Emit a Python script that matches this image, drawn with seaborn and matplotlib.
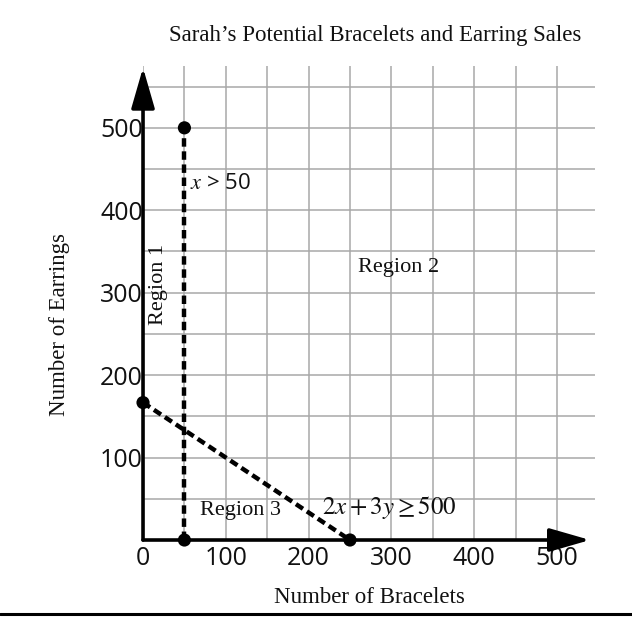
"""
Sarah's potential bracelet and earring sales - graph of the two
boundary lines (x > 50 and 2x + 3y >= 500) with the three regions.
"""

import matplotlib
matplotlib.use('Agg')
import matplotlib.pyplot as plt
from matplotlib.lines import Line2D
import numpy as np
import pandas as pd
import seaborn as sns

# ── Data ──────────────────────────────────────────────────────────────────────
vline_x = [50, 50]             # x = 50 boundary
vline_y = [0, 500]
budget_x = [0, 250]            # 2x + 3y = 500 boundary
budget_y = [166.7, 0]
point_x = [50, 0, 50, 250]     # end points of both boundaries
point_y = [500, 166.7, 0, 0]

x_ticks = [0, 100, 200, 300, 400, 500]
y_ticks = [100, 200, 300, 400, 500]

region_names = ['Region 1', 'Region 2', 'Region 3']
region_x = [19, 309, 118]
region_y = [310, 330, 36]

title = 'Sarah\u2019s Potential Bracelets and Earring Sales'
x_label = 'Number of Bracelets'
y_label = 'Number of Earrings'

SERIF = ['Liberation Serif', 'DejaVu Serif']
SANS = ['Open Sans', 'DejaVu Sans']
INK = '#111111'

sns.set_style('white')
plt.rcParams['font.family'] = SANS
plt.rcParams['mathtext.fontset'] = 'stix'
plt.rcParams['text.color'] = INK

fig = plt.figure(figsize=(6.32, 6.18), dpi=100)
ax = fig.add_axes([0.2263, 0.1262, 0.7152, 0.767])

# ── Boundary lines ────────────────────────────────────────────────────────────
lines = pd.concat([
    pd.DataFrame({'x': vline_x, 'y': vline_y, 'line': 'x > 50'}),
    pd.DataFrame({'x': budget_x, 'y': budget_y, 'line': '2x + 3y >= 500'}),
])
sns.lineplot(data=lines, x='x', y='y', units='line', estimator=None,
             sort=False, color='black', lw=3.2, ax=ax, zorder=4,
             linestyle=(0, (1.9, 1.05)), dash_capstyle='butt')

sns.scatterplot(x=point_x, y=point_y, color='black', s=90,
                edgecolor='none', ax=ax, zorder=5, clip_on=False)

# ── Axes, grid, arrows ────────────────────────────────────────────────────────
ax.set_xlim(0, 546)
ax.set_ylim(0, 575)
ax.set_xticks(x_ticks)
ax.set_yticks(y_ticks)
ax.set_xticks(np.arange(50, 550, 100), minor=True)
ax.set_yticks(np.arange(50, 600, 100), minor=True)
ax.grid(True, which='both', color='#a8a8a8', lw=1.1)
for s in ax.spines.values():
    s.set_visible(False)
ax.tick_params(axis='x', which='major', length=4, color='#a8a8a8',
               labelsize=18, pad=0, labelcolor=INK)
ax.tick_params(axis='y', which='major', length=0, labelsize=18, pad=0,
               labelcolor=INK)
ax.tick_params(which='minor', length=0)

arrow = dict(arrowstyle='-|>,head_length=1.25,head_width=0.36',
             color='black', lw=2.6, mutation_scale=20, shrinkA=0, shrinkB=0)
ax.annotate('', xy=(0, 573), xytext=(0, 0), arrowprops=arrow,
            annotation_clip=False, zorder=6)
ax.annotate('', xy=(540, 0), xytext=(0, 0), arrowprops=arrow,
            annotation_clip=False, zorder=6)

# ── Labels ────────────────────────────────────────────────────────────────────
ax.text(0.513, 1.065, title, transform=ax.transAxes, ha='center',
        va='center', fontsize=16.5, family=SERIF)
ax.set_xlabel(x_label, fontsize=16.5, family=SERIF, color=INK)
ax.set_ylabel(y_label, fontsize=16.5, family=SERIF, color=INK)
ax.xaxis.set_label_coords(0.502, -0.1)
ax.yaxis.set_label_coords(-0.162, 0.454)

for name, rx, ry in zip(region_names, region_x, region_y):
    ax.text(rx, ry, name, ha='center', va='center', fontsize=16,
            family=SERIF, rotation=90 if name == 'Region 1' else 0,
            zorder=7)

ax.text(57, 432, r'$x$ > 50', ha='left', va='center', fontsize=16, zorder=7)
ax.text(297, 39, r'$2x + 3y \geq 500$', ha='center', va='center',
        fontsize=18, zorder=7)

fig.add_artist(Line2D([0, 1], [0.006, 0.006], color='black', lw=2.2))

fig.savefig('out.png', dpi=100)
